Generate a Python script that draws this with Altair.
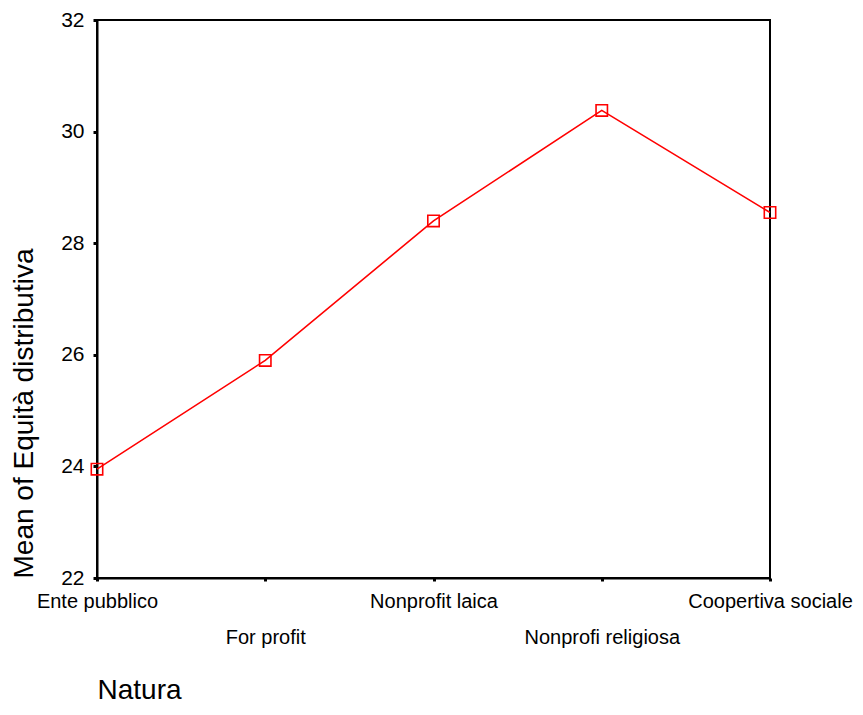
import altair as alt
import pandas as pd

categories = ["Ente pubblico", "For profit", "Nonprofit laica", "Nonprofi religiosa", "Coopertiva sociale"]
means = [23.95, 25.9, 28.4, 30.38, 28.55]

df = pd.DataFrame({"Natura": categories, "Mean": means})

x = alt.X(
    "Natura:N",
    sort=categories,
    scale=alt.Scale(type="point", padding=0),
    axis=alt.Axis(
        title="Natura",
        titleFontSize=28,
        titleFontWeight="normal",
        titleColor="black",
        titleAnchor="start",
        titleAlign="left",
        titleBaseline="alphabetic",
        titleX=0,
        titleY=120,
        labelFontSize=20,
        labelColor="black",
        labelAngle=0,
        labelBaseline="alphabetic",
        labelPadding=26,
        labelLineHeight=36,
        labelOverlap=False,
        labelFlush=False,
        labelExpr="indexof(['For profit','Nonprofi religiosa'], datum.value) >= 0 ? ['', datum.label] : datum.label",
        tickSize=3,
        tickWidth=3,
        tickColor="black",
        domainColor="black",
        domainWidth=2,
        grid=False,
    ),
)

y = alt.Y(
    "Mean:Q",
    scale=alt.Scale(domain=[22, 32], nice=False, zero=False),
    axis=alt.Axis(
        title="Mean of Equità distributiva",
        titleFontSize=28,
        titleFontWeight="normal",
        titleColor="black",
        titleAngle=-90,
        titleAlign="left",
        titleBaseline="middle",
        titleX=-73,
        titleY=558,
        values=[22, 24, 26, 28, 30, 32],
        labelFontSize=21,
        labelColor="black",
        labelPadding=9,
        tickSize=4,
        tickWidth=3,
        tickColor="black",
        domainColor="black",
        domainWidth=2,
        grid=False,
    ),
)

line = alt.Chart(df).mark_line(color="#ff0000", strokeWidth=1.6).encode(x=x, y=y)
pts = alt.Chart(df).mark_point(
    shape="square", size=130, filled=False, color="#ff0000", strokeWidth=1.6, opacity=1
).encode(x=x, y=y)

chart = (
    alt.layer(line, pts)
    .properties(
        width=673,
        height=558,
        autosize=alt.AutoSizeParams(type="none"),
        padding={"left": 89, "top": 12, "right": 85, "bottom": 129},
    )
    .configure(font="Liberation Sans")
    .configure_view(stroke="black", strokeWidth=2)
)

chart.save("out.html", embed_options={"renderer": "svg", "actions": False})
